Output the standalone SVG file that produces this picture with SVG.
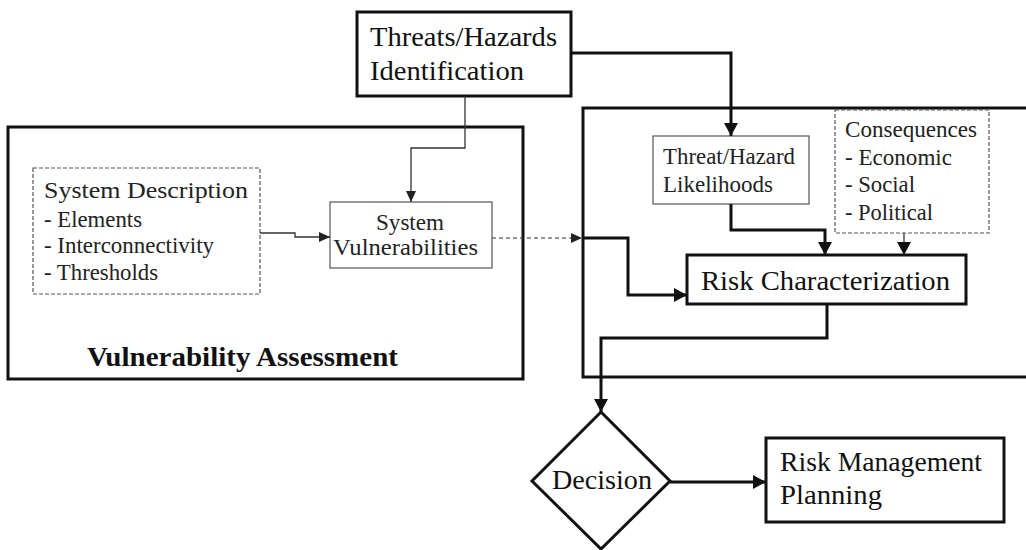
<svg xmlns="http://www.w3.org/2000/svg" width="1026" height="550" viewBox="0 0 1026 550">
<style>
  .bg { fill: #ffffff; }
  .thick { fill: none; stroke: #111; stroke-width: 3; }
  .thin { fill: none; stroke: #555; stroke-width: 1.2; }
  .thindash { fill: none; stroke: #555; stroke-width: 1.2; stroke-dasharray: 4 2; }
  text { font-family: 'Liberation Serif', 'DejaVu Serif', 'Times New Roman', serif; }
  .big { font-size: 28px; fill: #111; }
  .bold { font-size: 28px; font-weight: bold; fill: #111; }
  .small { font-size: 23px; fill: #222; }
  .cthick { fill: none; stroke: #111; stroke-width: 3; }
  .cthin { fill: none; stroke: #333; stroke-width: 1.3; }
  .cdash { fill: none; stroke: #333; stroke-width: 1.2; stroke-dasharray: 4 3; }
</style>
<defs>
  <marker id="ah" markerUnits="userSpaceOnUse" markerWidth="14" markerHeight="14" refX="13" refY="7" orient="auto">
    <path d="M0,0 L13,7 L0,14 Z" fill="#111"/>
  </marker>
  <marker id="ahs" markerUnits="userSpaceOnUse" markerWidth="12" markerHeight="12" refX="11" refY="6" orient="auto">
    <path d="M0,1 L11,6 L0,11 Z" fill="#222"/>
  </marker>
</defs>
<rect class="bg" x="0" y="0" width="1026" height="550"/>

<g id="vulnerability-assessment">
  <rect class="thick" x="8" y="127" width="515" height="252"/>
  <text class="bold" x="87" y="366" textLength="311" lengthAdjust="spacingAndGlyphs">Vulnerability Assessment</text>
</g>

<g id="risk-area">
  <rect class="thick" x="583" y="108" width="470" height="269"/>
</g>

<g id="threats-identification">
  <rect class="thick" x="357" y="12" width="214" height="84" fill="#fff"/>
  <text class="big" x="370" y="46" textLength="187" lengthAdjust="spacingAndGlyphs">Threats/Hazards</text>
  <text class="big" x="370" y="80" textLength="154" lengthAdjust="spacingAndGlyphs">Identification</text>
</g>

<g id="system-description">
  <rect class="thindash" x="33" y="168" width="227" height="126"/>
  <text class="small" x="44" y="198" textLength="204" lengthAdjust="spacingAndGlyphs">System Description</text>
  <text class="small" x="44" y="227" textLength="98" lengthAdjust="spacingAndGlyphs">- Elements</text>
  <text class="small" x="44" y="253" textLength="170" lengthAdjust="spacingAndGlyphs">- Interconnectivity</text>
  <text class="small" x="44" y="280" textLength="114" lengthAdjust="spacingAndGlyphs">- Thresholds</text>
</g>

<g id="system-vulnerabilities">
  <rect class="thin" x="330" y="202" width="162" height="66"/>
  <text class="small" x="376" y="230" font-size="24" textLength="68" lengthAdjust="spacingAndGlyphs">System</text>
  <text class="small" x="333" y="255" font-size="24" textLength="145" lengthAdjust="spacingAndGlyphs">Vulnerabilities</text>
</g>

<g id="threat-likelihoods">
  <rect class="thin" x="653" y="136" width="156" height="68"/>
  <text class="small" x="663" y="164" textLength="132" lengthAdjust="spacingAndGlyphs">Threat/Hazard</text>
  <text class="small" x="663" y="192" textLength="110" lengthAdjust="spacingAndGlyphs">Likelihoods</text>
</g>

<g id="consequences">
  <rect class="thindash" x="835" y="110" width="154" height="123"/>
  <text class="small" x="845" y="137" textLength="132" lengthAdjust="spacingAndGlyphs">Consequences</text>
  <text class="small" x="845" y="165" textLength="107" lengthAdjust="spacingAndGlyphs">- Economic</text>
  <text class="small" x="845" y="192" textLength="70" lengthAdjust="spacingAndGlyphs">- Social</text>
  <text class="small" x="845" y="220" textLength="88" lengthAdjust="spacingAndGlyphs">- Political</text>
</g>

<g id="risk-characterization">
  <rect class="thick" x="687" y="255" width="279" height="49"/>
  <text class="big" x="701" y="290" textLength="249" lengthAdjust="spacingAndGlyphs">Risk Characterization</text>
</g>

<g id="decision">
  <polygon class="thick" points="601,412 670,481 601,549 532,481" stroke-width="2"/>
  <text class="big" x="552" y="489" textLength="100" lengthAdjust="spacingAndGlyphs">Decision</text>
</g>

<g id="risk-management-planning">
  <rect class="thick" x="766" y="438" width="238" height="84"/>
  <text class="big" x="780" y="471" textLength="202" lengthAdjust="spacingAndGlyphs">Risk Management</text>
  <text class="big" x="780" y="504" textLength="102" lengthAdjust="spacingAndGlyphs">Planning</text>
</g>

<g id="connectors">
  <path class="cthin" d="M465,96 V148 H411 V202" marker-end="url(#ahs)"/>
  <path class="cthin" d="M260,233 H295 V237 H330" marker-end="url(#ahs)"/>
  <path class="cdash" d="M492,238 H582" marker-end="url(#ahs)"/>
  <path class="cthick" d="M583,238 H628 V295 H687" marker-end="url(#ah)"/>
  <path class="cthick" d="M571,53 H731 V136" marker-end="url(#ah)"/>
  <path class="cthick" d="M731,204 V230 H825 V255" marker-end="url(#ah)"/>
  <path class="cthin" d="M904,233 V255" stroke-width="2" marker-end="url(#ah)"/>
  <path class="cthick" d="M827,304 V338 H601 V412" marker-end="url(#ah)"/>
  <path class="cthick" d="M670,482 H766" marker-end="url(#ah)"/>
</g>
</svg>
